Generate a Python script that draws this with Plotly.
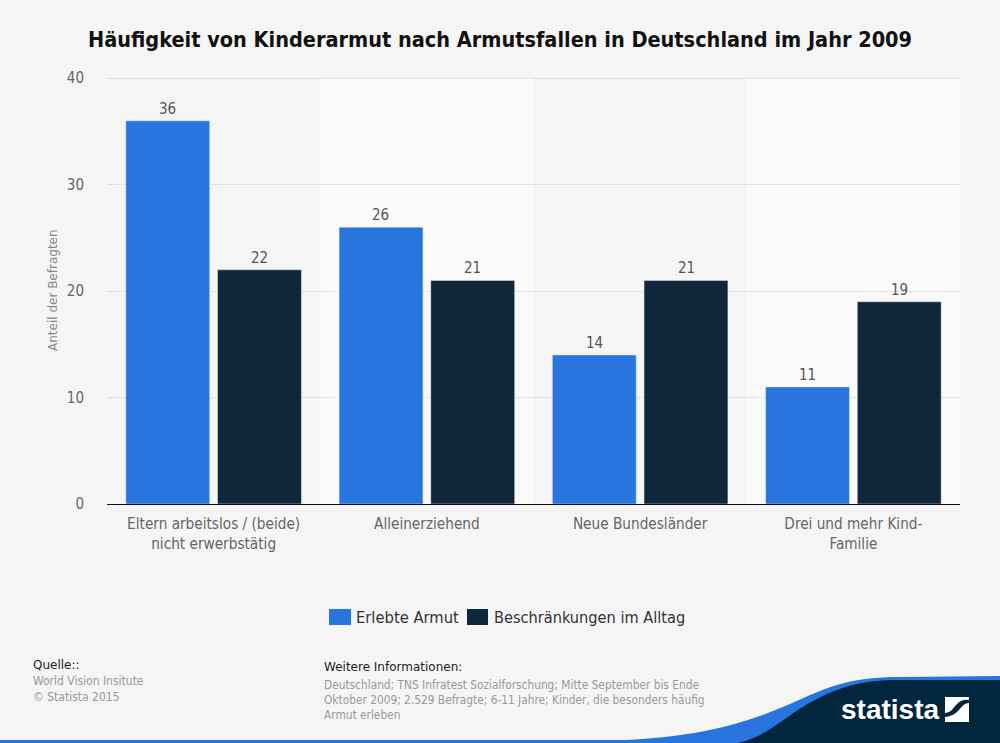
import plotly.graph_objects as go

# Daten
categories = ["Eltern arbeitslos / (beide)<br>nicht erwerbstätig", "Alleinerziehend",
              "Neue Bundesländer", "Drei und mehr Kind-<br>Familie"]
erlebte_armut = [36, 26, 14, 11]
beschraenkungen = [22, 21, 21, 19]
y_ticks = [0, 10, 20, 30, 40]

COND = "DejaVu Sans Condensed, DejaVu Sans"
PLAIN = "DejaVu Sans"
BLUE = "#2876dd"
NAVY = "#10263b"
DARK = "#03263f"
BG = "#f5f5f5"

# plot area in pixels (top is 2px above the 40 line, plotly drops a grid line sitting on the edge)
L, R, T, B = 107, 960, 76, 504
TEXT_PAD = 2  # annotations sit about 2px right of their anchor


def px(x):
    return (x - L) / (R - L)


def py(y):
    return (B - y) / (B - T)


def path(cmds):
    # cmds: list of (letter, x, y, x, y, ...) in page pixels -> paper coords
    out = []
    for c in cmds:
        if c[0] == "Z":
            out.append("Z")
            continue
        vals = c[1:]
        pts = [f"{px(vals[i]):.5f},{py(vals[i + 1]):.5f}" for i in range(0, len(vals), 2)]
        out.append(c[0] + " ".join(pts))
    return " ".join(out)


fig = go.Figure()
fig.add_trace(go.Bar(x=categories, y=erlebte_armut, name="Erlebte Armut", marker_color=BLUE))
fig.add_trace(go.Bar(x=categories, y=beschraenkungen, name="Beschränkungen im Alltag", marker_color=NAVY))

shapes = []
# helle Streifen hinter Kategorie 2 und 4
for i in [1, 3]:
    shapes.append(dict(type="rect", xref="x", yref="y", x0=i - 0.5, x1=i + 0.5, y0=0, y1=40,
                       fillcolor="#fafafa", line_width=0, layer="below"))
# Footer-Welle
shapes.append(dict(type="rect", xref="paper", yref="paper", x0=px(0), x1=px(1000), y0=py(743), y1=py(740),
                   fillcolor=BLUE, line_width=0))
shapes.append(dict(type="path", xref="paper", yref="paper", fillcolor=BLUE, line_width=0,
                   path=path([("M", 600, 741), ("C", 690, 739, 740, 726, 790, 704), ("C", 830, 686, 850, 677, 900, 677),
                              ("L", 1000, 676), ("L", 1000, 743), ("L", 600, 743), ("Z",)])))
shapes.append(dict(type="path", xref="paper", yref="paper", fillcolor=DARK, line_width=0,
                   path=path([("M", 738, 743), ("C", 768, 736, 785, 716, 813, 701), ("C", 840, 687, 860, 680, 900, 680),
                              ("L", 1000, 680), ("L", 1000, 743), ("Z",)])))
# Logo
shapes.append(dict(type="rect", xref="paper", yref="paper", x0=px(945), x1=px(969), y0=py(722), y1=py(697),
                   fillcolor="white", line_width=0))
shapes.append(dict(type="path", xref="paper", yref="paper", fillcolor=DARK, line_width=0,
                   path=path([("M", 945, 713), ("C", 955, 713, 955, 698, 969, 700), ("L", 969, 703),
                              ("C", 960, 703, 960, 716, 945, 717), ("Z",)])))
# Legende
for x0, x1, col in [(329, 351, BLUE), (467, 488, NAVY)]:
    shapes.append(dict(type="rect", xref="paper", yref="paper", x0=px(x0), x1=px(x1), y0=py(625), y1=py(609),
                       fillcolor=col, line_width=0))

annotations = [
    dict(text="Quelle::", x=33, y=665, font=dict(size=12, color="#222222", family=PLAIN)),
    dict(text="World Vision Insitute", x=33, y=681, font=dict(size=12, color="#999999")),
    dict(text="© Statista 2015", x=33, y=697, font=dict(size=12, color="#999999")),
    dict(text="Weitere Informationen:", x=324, y=667, font=dict(size=12, color="#222222", family=PLAIN)),
    dict(text="Deutschland; TNS Infratest Sozialforschung; Mitte September bis Ende", x=324, y=685,
         font=dict(size=11.8, color="#999999")),
    dict(text="Oktober 2009; 2.529 Befragte; 6-11 Jahre; Kinder, die besonders häufig", x=324, y=700,
         font=dict(size=11.8, color="#999999")),
    dict(text="Armut erleben", x=324, y=715, font=dict(size=11.8, color="#999999")),
    dict(text="Erlebte Armut", x=356, y=617, font=dict(size=16.4, color="#333333")),
    dict(text="Beschränkungen im Alltag", x=494, y=617, font=dict(size=16.2, color="#333333")),
]
for a in annotations:
    a.update(x=px(a["x"] - TEXT_PAD), y=py(a["y"]), xanchor="left")
annotations += [
    dict(text="Anteil der Befragten", x=px(53), y=py(290), xanchor="center", textangle=-90,
         font=dict(size=12, color="#888888", family=PLAIN)),
    dict(text="<b>statista</b>", x=px(890), y=py(709), xanchor="center",
         font=dict(size=28, color="white", family="Liberation Sans")),
]
for a in annotations:
    a.update(xref="paper", yref="paper", yanchor="middle", showarrow=False)
    a["font"].setdefault("family", COND)

# Werte ueber den Balken
for shift, values in [(-46, erlebte_armut), (46, beschraenkungen)]:
    for cat, v in zip(categories, values):
        annotations.append(dict(x=cat, y=v, text=str(v), xref="x", yref="y", xshift=shift, yshift=1,
                                yanchor="bottom", xanchor="center", showarrow=False,
                                font=dict(family=COND, size=15, color="#555555")))

fig.update_layout(
    width=1000, height=743,
    autosize=False,
    paper_bgcolor=BG, plot_bgcolor=BG,
    margin=dict(l=L, r=1000 - R, t=T, b=743 - B, pad=0),
    title=dict(text="<b>Häufigkeit von Kinderarmut nach Armutsfallen in Deutschland im Jahr 2009</b>",
               x=0.5, xanchor="center", y=1 - 39 / 743, yanchor="middle",
               font=dict(family=COND, size=21.5, color="#111111")),
    barmode="group", bargap=0.14, bargroupgap=0.085,
    font=dict(family=COND, size=15, color="#666666"),
    shapes=shapes,
    annotations=annotations,
    showlegend=False,
)
fig.update_xaxes(showline=True, linecolor="#111111", linewidth=1, ticks="", tickfont=dict(size=15.2, color="#666666"),
                 ticklabelstandoff=6, showgrid=False, fixedrange=True)
fig.update_yaxes(range=[0, 40.2], tickvals=y_ticks, showgrid=True, gridcolor="#cccccc", griddash="1px,1px", gridwidth=1,
                 zeroline=False, ticks="", tickfont=dict(size=15, color="#666666"), ticklabelstandoff=22,
                 fixedrange=True)

fig.write_html("out.html", config=dict(displayModeBar=False), post_script="document.body.style.margin='0';")
